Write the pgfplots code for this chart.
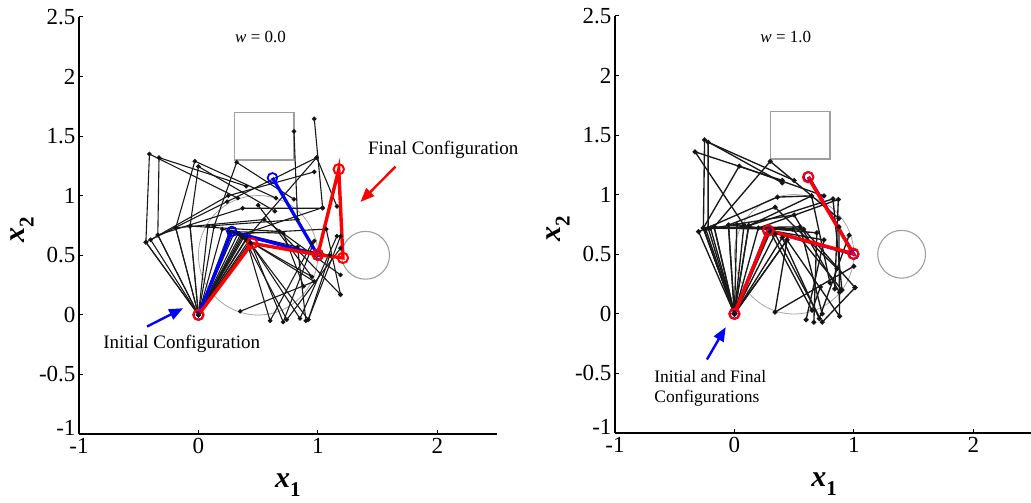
\documentclass[border=0pt]{standalone}
\usepackage{fontspec}
\setmainfont{Liberation Serif}
\usepackage{pgfplots}
\pgfplotsset{compat=1.18}
\usetikzlibrary{arrows.meta}
\pgfplotsset{
 armaxis/.style={
  scale only axis, width=418pt, height=417pt,
  xmin=-1,xmax=2.5,ymin=-1,ymax=2.5,
  axis lines*=left, axis line style={line width=1.3pt},
  tick align=inside, major tick length=4pt, tick style={line width=1pt, black},
  xtick={-1,0,1,2}, xticklabels={-1,0,1,2},
  ytick={-1,-0.5,0,0.5,1,1.5,2,2.5}, yticklabels={\raisebox{-2pt}[0pt][0pt]{-1},-0.5,0,0.5,1,1.5,2,2.5},
  ticklabel style={font=\fontsize{23}{23}\selectfont},
  xticklabel style={yshift=-1pt},
  xlabel={\fontsize{30}{30}\selectfont\bfseries\itshape x\raisebox{-9pt}{\fontsize{21}{21}\selectfont\upshape 1}},
  ylabel={\fontsize{30}{30}\selectfont\bfseries\itshape x\raisebox{-9pt}{\fontsize{21}{21}\selectfont\upshape 2}},
  xlabel style={at={(axis description cs:0.5,-0.122)}, anchor=center},
  ylabel style={at={(axis description cs:-0.136,0.49)}, anchor=center},
  clip=false,
 },
 cfg/.style={black!90, line width=1.1pt, mark=*, mark size=1.7pt, mark options={solid, fill=black}},
 cfgb/.style={black!90, line width=1.35pt, mark=*, mark size=1.8pt, mark options={solid, fill=black}},
 obst/.style={gray!75, line width=1.3pt, mark=none},
 blu/.style={blue, line width=3.2pt, mark=o, mark size=4.8pt, mark options={line width=1.8pt}},
 rd/.style={red, line width=3.4pt, mark=o, mark size=5.2pt, mark options={line width=2pt}},
}
\begin{document}
\begin{tikzpicture}
\useasboundingbox (0,0) rectangle (1031pt,503pt);
% ---------------- left: w = 0.0 ----------------
\begin{axis}[armaxis, at={(79pt,69pt)}, anchor=south west]
\addplot[obst] coordinates {(0.3,1.3) (0.8,1.3) (0.8,1.7) (0.3,1.7) (0.3,1.3)};
\draw[gray!75, line width=1.1pt] (axis cs:1.4,0.5) circle[radius=23.9pt];
\draw[gray!70, line width=0.8pt] (axis cs:0.5,0.5) circle[radius=59.7pt];
\addplot[cfg] coordinates {(0,0) (-0.44,0.61) (-0.41,1.35) (0.33,0.98)};
\addplot[cfg] coordinates {(0,0) (-0.34,0.67) (-0.33,1.32) (0.40,1.08)};
\addplot[cfg] coordinates {(0,0) (-0.19,0.73) (-0.03,1.29) (0.65,0.98)};
\addplot[cfg] coordinates {(0,0) (-0.07,0.745) (0.00,1.245) (0.64,0.87)};
\addplot[cfg] coordinates {(0,0) (0.13,0.74) (0.32,1.28) (0.80,0.97)};
\addplot[cfg] coordinates {(0,0) (0.08,0.745) (0.83,0.80) (0.80,1.54)};
\addplot[cfg] coordinates {(0,0) (0.35,0.67) (1.04,0.90) (0.97,1.645)};
\addplot[cfg] coordinates {(0,0) (0.40,0.64) (0.99,1.32) (1.16,0.91)};
\addplot[cfg] coordinates {(0,0) (0.38,0.65) (0.74,-0.04) (1.19,0.56)};
\addplot[cfg] coordinates {(0,0) (0.42,0.62) (0.92,-0.04) (1.19,0.66)};
\addplot[cfg] coordinates {(0,0) (0.36,0.66) (0.97,0.28) (0.35,0.03)};
\addplot[cfg] coordinates {(0,0) (0.33,0.68) (1.07,0.72) (1.19,0.17)};
\addplot[cfg] coordinates {(0,0) (-0.19,0.73) (0.55,0.80) (1.19,0.335)};
\addplot[cfg] coordinates {(0,0) (0.20,0.72) (0.83,0.57) (0.90,-0.05)};
\addplot[cfg] coordinates {(0,0) (-0.34,0.67) (0.37,0.895) (1.04,0.895)};
\addplot[cfg] coordinates {(0,0) (-0.44,0.61) (0.24,0.95) (0.99,1.32)};
\addplot[cfg] coordinates {(0,0) (-0.07,0.745) (0.68,0.70) (1.19,0.17)};
\addplot[cfg] coordinates {(0,0) (0.44,0.60) (0.71,-0.06) (0.97,0.62)};
\addplot[cfg] coordinates {(0,0) (0.40,0.63) (0.60,-0.05) (0.95,0.60)};
\addplot[cfg] coordinates {(0,0) (0.43,0.61) (0.85,-0.03) (1.16,0.66)};
\addplot[cfg] coordinates {(0,0) (0.37,0.655) (1.10,0.50) (0.92,-0.04)};
\addplot[cfg] coordinates {(0,0) (0.30,0.69) (0.95,0.32) (0.50,0.92)};
\addplot[cfg] coordinates {(0,0) (0.26,0.70) (0.71,0.685) (0.88,0.24)};
\addplot[cfg] coordinates {(0,0) (-0.40,0.63) (0.25,1.00) (0.97,1.20)};
\addplot[blu] coordinates {(0,0) (0.28,0.70) (1.00,0.50) (0.62,1.15)};
\addplot[rd] coordinates {(0,0) (0.45,0.60) (1.00,0.505) (1.175,1.222) (1.21,0.478) (1.00,0.505)};
\node[font=\fontsize{17}{17}\selectfont] at (axis cs:0.52,2.33) {\textit{w} = 0.0};
\node[font=\fontsize{19}{19}\selectfont] at (axis cs:2.05,1.384) {Final Configuration};
\node[font=\fontsize{19}{19}\selectfont] at (axis cs:-0.14,-0.243) {Initial Configuration};
\draw[red, line width=2.4pt, -{Triangle[length=14pt,width=11pt]}] (axis cs:1.65,1.244) -- (axis cs:1.357,0.948);
\draw[blue, line width=2.4pt, -{Triangle[length=14pt,width=11pt]}] (axis cs:-0.43,-0.098) -- (axis cs:-0.128,0.056);
\end{axis}
% ---------------- right: w = 1.0 ----------------
\begin{axis}[armaxis, at={(615pt,70pt)}, anchor=south west]
\addplot[obst] coordinates {(0.3,1.3) (0.8,1.3) (0.8,1.7) (0.3,1.7) (0.3,1.3)};
\draw[gray!75, line width=1.1pt] (axis cs:1.4,0.5) circle[radius=23.9pt];
\draw[gray!70, line width=0.8pt] (axis cs:0.5,0.5) circle[radius=59.7pt];
\addplot[cfgb] coordinates {(0,0) (-0.26,0.72) (-0.25,1.46) (0.40,1.10)};
\addplot[cfgb] coordinates {(0,0) (0.08,0.745) (-0.33,1.36) (0.40,1.12)};
\addplot[cfgb] coordinates {(0,0) (-0.17,0.73) (0.30,1.28) (0.875,0.80)};
\addplot[cfgb] coordinates {(0,0) (-0.26,0.72) (0.04,1.24) (0.75,0.99)};
\addplot[cfgb] coordinates {(0,0) (-0.26,0.72) (0.49,0.71) (0.90,0.20)};
\addplot[cfgb] coordinates {(0,0) (-0.17,0.73) (0.58,0.71) (1.01,0.22)};
\addplot[cfgb] coordinates {(0,0) (-0.05,0.745) (0.69,0.68) (0.665,-0.07)};
\addplot[cfgb] coordinates {(0,0) (0.12,0.74) (0.825,0.965) (0.90,0.20)};
\addplot[cfgb] coordinates {(0,0) (0.34,0.67) (0.735,-0.07) (1.01,0.22)};
\addplot[cfgb] coordinates {(0,0) (0.44,0.62) (0.88,-0.02) (0.875,0.73)};
\addplot[cfgb] coordinates {(0,0) (0.30,0.69) (0.65,0.03) (0.72,0.225)};
\addplot[cfgb] coordinates {(0,0) (0.44,0.62) (0.34,0.015) (1.00,0.40)};
\addplot[cfgb] coordinates {(0,0) (-0.05,0.745) (0.34,0.895) (0.86,0.38)};
\addplot[cfgb] coordinates {(0,0) (0.12,0.74) (0.646,0.99) (0.80,0.26)};
\addplot[cfgb] coordinates {(0,0) (-0.24,0.71) (0.50,0.83) (0.88,0.18)};
\addplot[cfgb] coordinates {(0,0) (-0.20,0.72) (0.55,0.73) (0.735,0.00)};
\addplot[cfgb] coordinates {(0,0) (0.40,0.64) (0.71,-0.04) (0.96,0.66)};
\addplot[cfgb] coordinates {(0,0) (-0.22,0.72) (-0.22,1.44) (0.50,1.12)};
\addplot[cfgb] coordinates {(0,0) (0.20,0.72) (0.87,0.96) (0.84,0.21)};
\addplot[cfgb] coordinates {(0,0) (-0.30,0.69) (0.36,0.98) (0.646,0.99)};
\addplot[cfgb] coordinates {(0,0) (0.02,0.75) (0.75,0.62) (0.60,-0.05)};
\addplot[blu] coordinates {(0,0) (0.28,0.70) (1.00,0.50) (0.62,1.15)};
\addplot[rd] coordinates {(0,0) (0.282,0.70) (0.995,0.505) (0.617,1.147)};
\node[font=\fontsize{17}{17}\selectfont] at (axis cs:0.43,2.32) {\textit{w} = 1.0};
\node[font=\fontsize{17.5}{20}\selectfont, align=left, anchor=west] at (axis cs:-0.70,-0.627) {Initial and Final\\Configurations};
\draw[blue, line width=2.4pt, -{Triangle[length=14pt,width=11pt]}] (axis cs:-0.23,-0.383) -- (axis cs:-0.073,-0.112);
\end{axis}
\end{tikzpicture}
\end{document}
